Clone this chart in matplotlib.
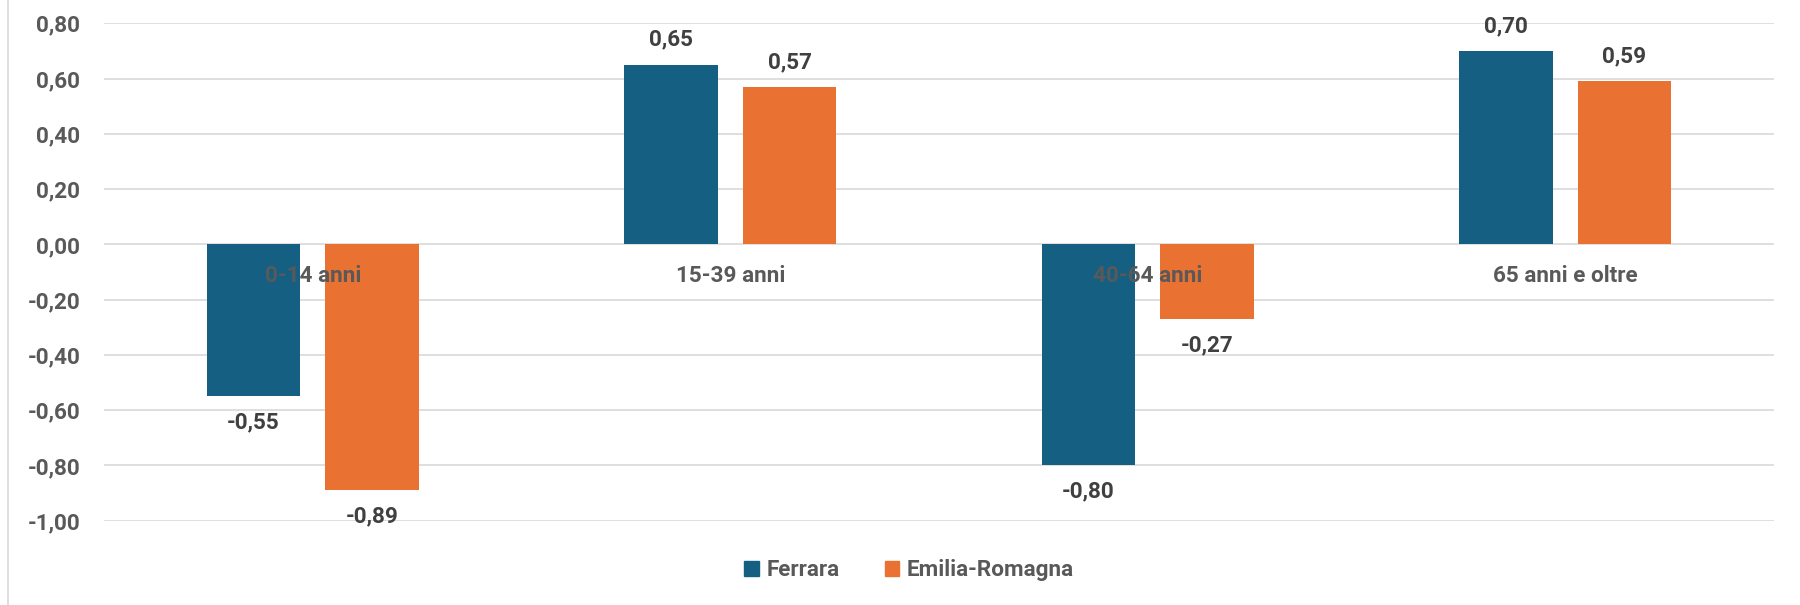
import matplotlib
matplotlib.use("Agg")
import matplotlib.pyplot as plt
from matplotlib.lines import Line2D
from matplotlib.patches import Patch
import numpy as np

categories = ["0-14 anni", "15-39 anni", "40-64 anni", "65 anni e oltre"]
ferrara = [-0.55, 0.65, -0.80, 0.70]
emilia = [-0.89, 0.57, -0.27, 0.59]
series_names = ["Ferrara", "Emilia-Romagna"]
yticks = [-1.0, -0.8, -0.6, -0.4, -0.2, 0.0, 0.2, 0.4, 0.6, 0.8]

plt.rcParams['font.family'] = ['Roboto', 'DejaVu Sans']
BLUE = "#156082"
ORANGE = "#E97132"
GRAY = "#595959"
DARK = "#404040"
FS = 16.2

W, H = 1800, 605
fig = plt.figure(figsize=(W/100, H/100), dpi=100)
ax = fig.add_axes([104/W, (H-520.7)/H, (1774-104)/W, (520.7-23.3)/H])

x = np.arange(len(categories))
bw = 0.224
off = bw/2 + 0.03
b1 = ax.bar(x - off, ferrara, bw, color=BLUE, zorder=2)
b2 = ax.bar(x + off, emilia, bw, color=ORANGE, zorder=2)

def fmt(v):
    return f"{v:.2f}".replace(".", ",")

for bars, vals in ((b1, ferrara), (b2, emilia)):
    for r, v in zip(bars, vals):
        cx = r.get_x() + r.get_width()/2
        dy = 18 if v >= 0 else -19
        ax.annotate(fmt(v), (cx, v), xytext=(0, dy), textcoords="offset points",
                    ha="center", va="center", fontsize=FS, fontweight="bold",
                    color=DARK, annotation_clip=False, zorder=4)

for xi, c in zip(x, categories):
    ax.annotate(c, (xi, 0), xytext=(0, -23), textcoords="offset points",
                ha="center", va="center", fontsize=FS, fontweight="bold",
                color=GRAY, zorder=5)

ax.set_xlim(-0.5, len(categories) - 0.5)
ax.set_ylim(-1.0, 0.8)
ax.set_yticks(yticks)
ax.set_yticklabels([fmt(v) for v in yticks])
ax.tick_params(axis="y", length=0, pad=17, labelsize=FS, labelcolor=GRAY)
for lbl in ax.get_yticklabels():
    lbl.set_fontweight("bold")
ax.set_xticks([])
ax.grid(axis="y", color="#d9d9d9", linewidth=1.2, zorder=0)
ax.set_axisbelow(True)
for s in ax.spines.values():
    s.set_visible(False)

fig.add_artist(Line2D([8/W, 8/W], [0, 1], color="#d9d9d9", linewidth=1.2))

handles = [Patch(color=BLUE), Patch(color=ORANGE)]
leg = fig.legend(handles, series_names, loc="center", bbox_to_anchor=(909/W, (H-570)/H),
                 ncol=2, frameon=False, fontsize=FS, handlelength=0.65, handleheight=0.65,
                 handletextpad=0.35, columnspacing=2.0)
for t in leg.get_texts():
    t.set_color(GRAY)
    t.set_fontweight("bold")

fig.savefig("out.png", dpi=100, facecolor="white")
